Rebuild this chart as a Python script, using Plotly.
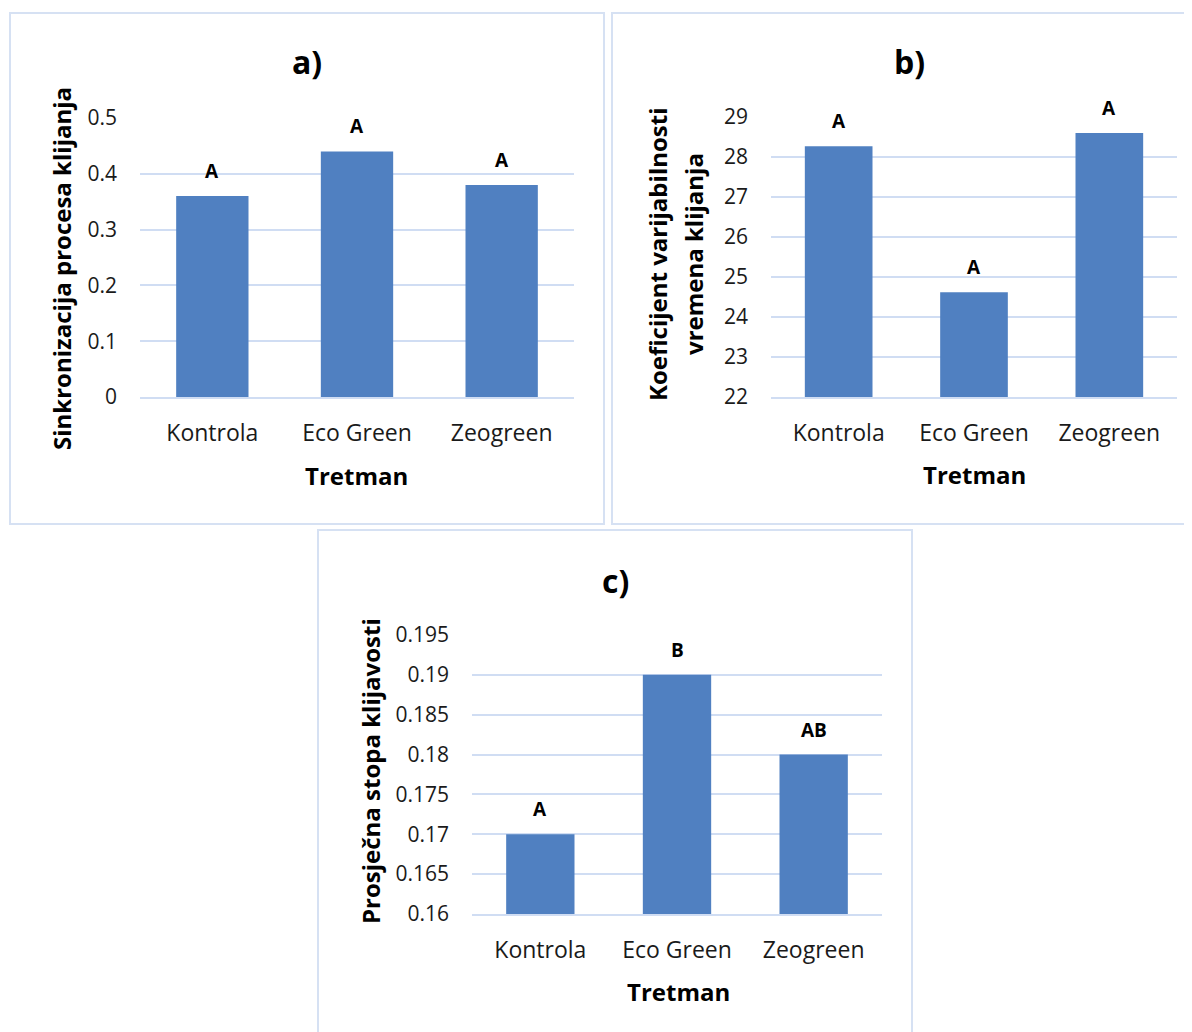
import plotly.graph_objects as go

# ---------------- data ----------------
categories = ["Kontrola", "Eco Green", "Zeogreen"]

sync_values = [0.36, 0.44, 0.38]
sync_letters = ["A", "A", "A"]
sync_ticks = [0, 0.1, 0.2, 0.3, 0.4, 0.5]
sync_ticktext = ["0", "0.1", "0.2", "0.3", "0.4", "0.5"]

cv_values = [28.27, 24.62, 28.6]
cv_letters = ["A", "A", "A"]
cv_ticks = [22, 23, 24, 25, 26, 27, 28, 29]
cv_ticktext = ["22", "23", "24", "25", "26", "27", "28", "29"]

rate_values = [0.17, 0.19, 0.18]
rate_letters = ["A", "B", "AB"]
rate_ticks = [0.16, 0.165, 0.17, 0.175, 0.18, 0.185, 0.19, 0.195]
rate_ticktext = ["0.16", "0.165", "0.17", "0.175", "0.18", "0.185", "0.19", "0.195"]

panel_titles = ["a)", "b)", "c)"]
x_title = "Tretman"
y_titles = [["Sinkronizacija procesa klijanja"],
            ["Koeficijent varijabilnosti", "vremena klijanja"],
            ["Prosječna stopa klijavosti"]]

# ---------------- styling ----------------
W, H = 1192, 1032
OX, OY = 8, 8          # page body margin
FONT = "Open Sans"
BAR_COLOR = "#5080c1"
GRID = "#d0ddf3"
BORDER = "#d6e1f3"
TXT = "#1a1a1a"


def px(x):
    return (x - OX) / W


def py(y):
    return 1 - (y - OY) / H


fig = go.Figure()

panels = [
    dict(vals=sync_values, letters=sync_letters, ticks=sync_ticks, ttext=sync_ticktext,
         rng=[0, 0.5], xd=(140, 574), yd=(397, 118), box=(10, 13, 604, 524),
         title_xy=(307, 62), xt_xy=(356, 475), yt_x=[61], yt_y=269),
    dict(vals=cv_values, letters=cv_letters, ticks=cv_ticks, ttext=cv_ticktext,
         rng=[22, 29], xd=(771, 1177), yd=(397, 117), box=(612, 13, 1190, 524),
         title_xy=(909, 62), xt_xy=(974, 474), yt_x=[658, 694], yt_y=254),
    dict(vals=rate_values, letters=rate_letters, ticks=rate_ticks, ttext=rate_ticktext,
         rng=[0.16, 0.195], xd=(472, 882), yd=(914, 635), box=(318, 530, 912, 1045),
         title_xy=(615, 580), xt_xy=(678, 991), yt_x=[370], yt_y=771),
]

annotations = []
shapes = []
for i, p in enumerate(panels):
    n = "" if i == 0 else str(i + 1)
    xa = "x" + n
    ya = "y" + n
    fig.add_trace(go.Bar(x=categories, y=p["vals"], xaxis=xa, yaxis=ya,
                         marker=dict(color=BAR_COLOR, line=dict(width=0)),
                         hoverinfo="x+y", showlegend=False))
    fig.update_layout(**{
        "xaxis" + n: dict(domain=[px(p["xd"][0]), px(p["xd"][1])], anchor=ya,
                          showgrid=False, showline=True, linecolor=GRID, linewidth=2,
                          ticks="", tickfont=dict(family=FONT, size=23, color=TXT),
                          ticklabelstandoff=14, automargin=False, fixedrange=True),
        "yaxis" + n: dict(domain=[py(p["yd"][0]), py(p["yd"][1])], anchor=xa,
                          range=p["rng"], tickvals=p["ticks"], ticktext=p["ttext"],
                          showgrid=True, gridcolor=GRID, gridwidth=2,
                          zeroline=False, showline=False, ticks="",
                          tickfont=dict(family=FONT, size=21, color=TXT),
                          ticklabelstandoff=22, automargin=False, fixedrange=True),
        "bargap": 0.5,
    })
    # letters above bars
    for c, v, t in zip(categories, p["vals"], p["letters"]):
        annotations.append(dict(x=c, y=v, xref=xa, yref=ya, text="<b>" + t + "</b>",
                                showarrow=False, yshift=25, xanchor="center", yanchor="middle",
                                font=dict(family=FONT, size=19, color="#000000")))
    # panel title
    annotations.append(dict(x=px(p["title_xy"][0]), y=py(p["title_xy"][1]), xref="paper", yref="paper",
                            text="<b>" + panel_titles[i] + "</b>", showarrow=False,
                            xanchor="center", yanchor="middle",
                            font=dict(family=FONT, size=32, color="#000000")))
    # x title
    annotations.append(dict(x=px(p["xt_xy"][0]), y=py(p["xt_xy"][1]), xref="paper", yref="paper",
                            text="<b>" + x_title + "</b>", showarrow=False,
                            xanchor="center", yanchor="middle",
                            font=dict(family=FONT, size=24, color="#000000")))
    # y title (one annotation per line)
    for xx, line in zip(p["yt_x"], y_titles[i]):
        annotations.append(dict(x=px(xx), y=py(p["yt_y"]), xref="paper", yref="paper",
                                text="<b>" + line + "</b>", showarrow=False, textangle=-90,
                                xanchor="center", yanchor="middle",
                                font=dict(family=FONT, size=24, color="#000000")))
    b = p["box"]
    shapes.append(dict(type="rect", xref="paper", yref="paper",
                       x0=px(b[0]), x1=px(b[2]), y0=py(b[1]), y1=py(b[3]),
                       line=dict(color=BORDER, width=2), fillcolor="rgba(0,0,0,0)", layer="below"))

fig.update_layout(width=W, height=H, margin=dict(l=0, r=0, t=0, b=0),
                  paper_bgcolor="white", plot_bgcolor="white",
                  annotations=annotations, shapes=shapes, showlegend=False)

fig.write_html("out.html")
